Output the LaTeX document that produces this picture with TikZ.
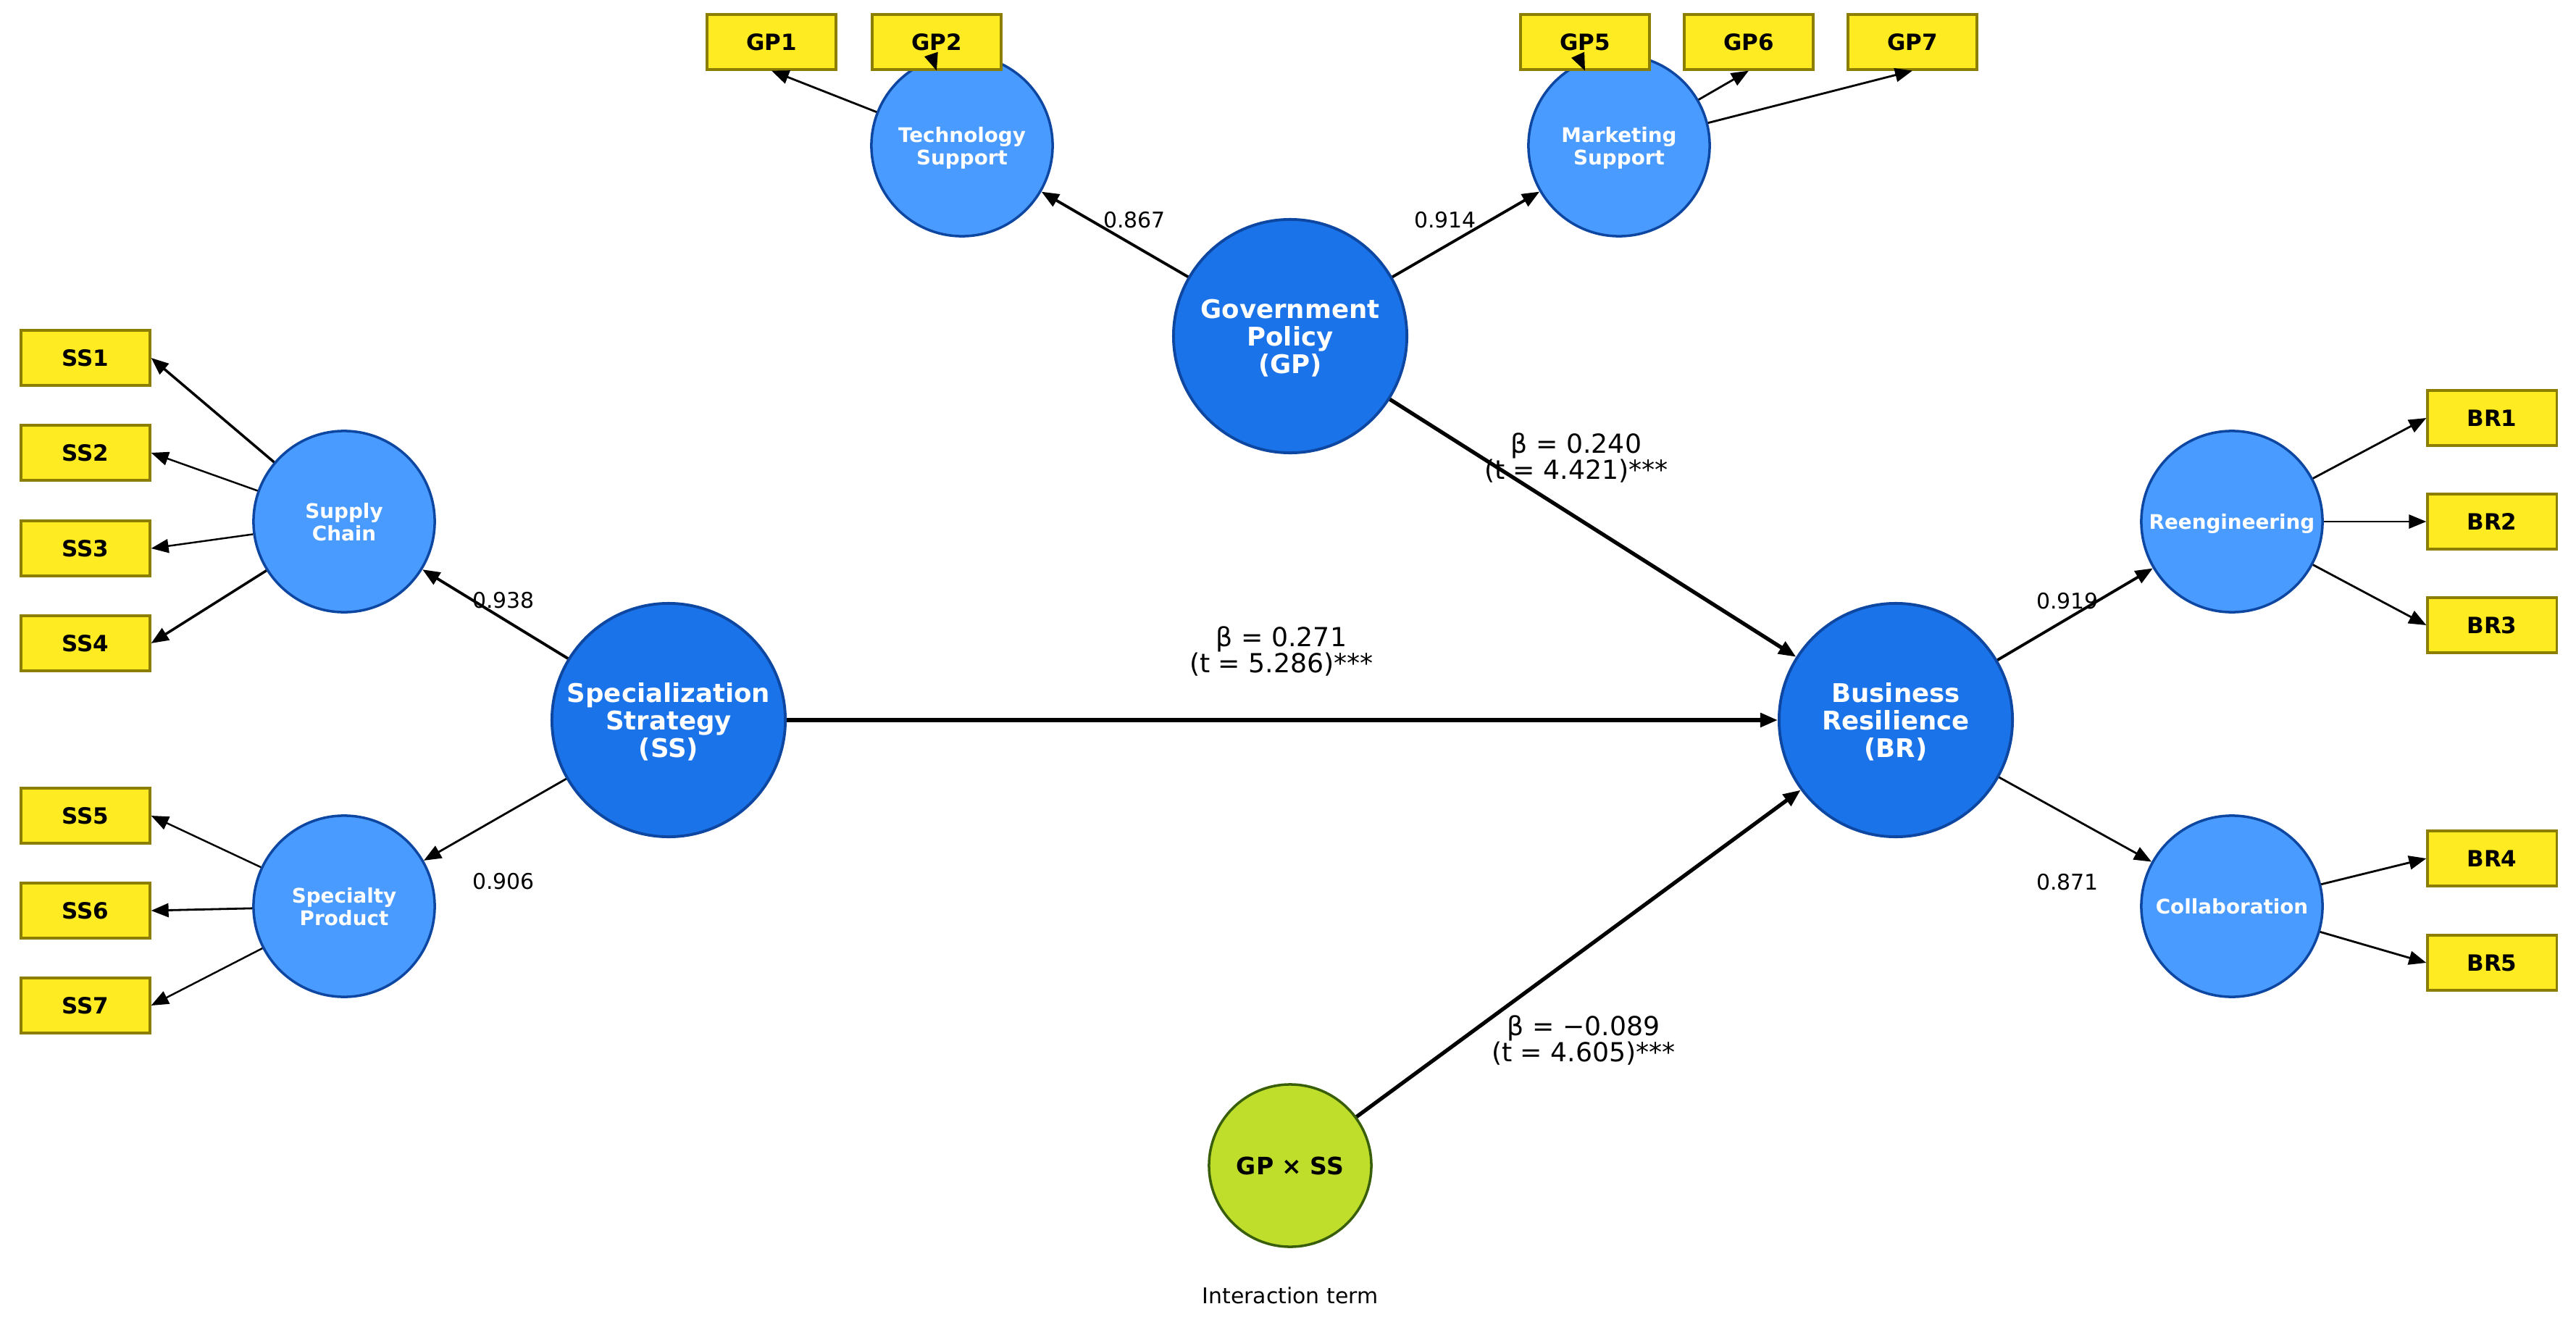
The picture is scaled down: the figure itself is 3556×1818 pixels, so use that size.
\documentclass[tikz,border=0pt]{standalone}
\usepackage{fontspec}
\setmainfont{DejaVu Sans}
\usepackage{xcolor}
\usepackage{tikz}
\usetikzlibrary{arrows.meta}

\definecolor{mainblue}{HTML}{1A73E8}
\definecolor{lightblue}{HTML}{4A9BFF}
\definecolor{edgeblue}{HTML}{0D47A1}
\definecolor{limegreen}{HTML}{BFDD2B}
\definecolor{olivegreen}{HTML}{3A5F0B}
\definecolor{itemyellow}{HTML}{FFEB22}
\definecolor{itemedge}{HTML}{8C7E00}

\begin{document}
\begin{tikzpicture}[
    x=0.01cm, y=-0.01cm,
    construct/.style={circle, draw=edgeblue, line width=1.1pt, fill=mainblue, text=white, text depth=0pt,
      minimum size=3.22cm, inner sep=0pt, align=center, font=\fontsize{10.1}{10.8}\selectfont\bfseries},
    dimension/.style={circle, draw=edgeblue, line width=1pt, fill=lightblue, text=white, text depth=0pt,
      minimum size=2.5cm, inner sep=0pt, align=center, font=\fontsize{7.9}{8.8}\selectfont\bfseries},
    moderator/.style={circle, draw=olivegreen, line width=1pt, fill=limegreen,
      minimum size=2.24cm, inner sep=0pt, font=\fontsize{9.4}{11}\selectfont\bfseries},
    item/.style={rectangle, draw=itemedge, line width=0.9pt, fill=itemyellow,
      minimum width=1.78cm, minimum height=0.76cm, inner sep=0pt, font=\fontsize{8.8}{10}\selectfont\bfseries},
    tip/.style={-{Triangle[length=2.4mm,width=1.9mm]}},
    structural/.style={tip, line width=1.5pt},
    loading/.style={tip, line width=#1},
    loading/.default=1pt,
    coef/.style={align=center, font=\fontsize{10.3}{10.2}\selectfont},
    weight/.style={font=\fontsize{8.5}{10}\selectfont},
  ]
  \useasboundingbox (0,0) rectangle (3556,1818);

  % Constructs
  \node[construct] (gp) at (1781,464) {Government\\Policy\\(GP)};
  \node[construct] (ss) at (923,994)  {Specialization\\Strategy\\(SS)};
  \node[construct] (br) at (2617,994) {Business\\Resilience\\(BR)};
  \node[moderator] (gpss) at (1781,1609) {GP × SS};

  % Dimensions
  \node[dimension] (ts) at (1328,201)  {Technology\\Support};
  \node[dimension] (ms) at (2235,201)  {Marketing\\Support};
  \node[dimension] (sc) at (475,720)   {Supply\\Chain};
  \node[dimension] (sp) at (475,1251)  {Specialty\\Product};
  \node[dimension] (re) at (3081,720)  {Reengineering};
  \node[dimension] (co) at (3081,1251) {Collaboration};

  % Indicators
  \node[item] (gp1) at (1065,58) {GP1};
  \node[item] (gp2) at (1293,58) {GP2};
  \node[item] (gp5) at (2188,58) {GP5};
  \node[item] (gp6) at (2414,58) {GP6};
  \node[item] (gp7) at (2640,58) {GP7};

  \node[item] (ss1) at (118,494)  {SS1};
  \node[item] (ss2) at (118,625)  {SS2};
  \node[item] (ss3) at (118,757)  {SS3};
  \node[item] (ss4) at (118,888)  {SS4};
  \node[item] (ss5) at (118,1126) {SS5};
  \node[item] (ss6) at (118,1257) {SS6};
  \node[item] (ss7) at (118,1388) {SS7};

  \node[item] (br1) at (3440,577)  {BR1};
  \node[item] (br2) at (3440,720)  {BR2};
  \node[item] (br3) at (3440,863)  {BR3};
  \node[item] (br4) at (3440,1185) {BR4};
  \node[item] (br5) at (3440,1329) {BR5};

  % Structural paths
  \draw[structural] (gp) -- (br);
  \draw[structural] (ss) -- (br);
  \draw[structural] (gpss) -- (br);

  % Second-order loadings
  \draw[loading=1.1pt] (gp) -- (ts);
  \draw[loading=1.1pt] (gp) -- (ms);
  \draw[loading=1.1pt] (ss) -- (sc);
  \draw[loading=0.8pt] (ss) -- (sp);
  \draw[loading=1.1pt] (br) -- (re);
  \draw[loading=0.8pt] (br) -- (co);

  % Indicator loadings
  \draw[loading=0.8pt] (ts) -- (gp1.south);
  \draw[loading=0.8pt] (ts) -- (gp2.south);
  \draw[loading=0.8pt] (ms) -- (gp5.south);
  \draw[loading=0.8pt] (ms) -- (gp6.south);
  \draw[loading=0.8pt] (ms) -- (gp7.south);
  \draw[loading=1pt] (sc) -- (ss1.east);
  \draw[loading=0.7pt] (sc) -- (ss2.east);
  \draw[loading=0.7pt] (sc) -- (ss3.east);
  \draw[loading=1pt] (sc) -- (ss4.east);
  \draw[loading=0.7pt] (sp) -- (ss5.east);
  \draw[loading=0.8pt] (sp) -- (ss6.east);
  \draw[loading=0.7pt] (sp) -- (ss7.east);
  \draw[loading=0.8pt] (re) -- (br1.west);
  \draw[loading=0.8pt] (re) -- (br2.west);
  \draw[loading=0.8pt] (re) -- (br3.west);
  \draw[loading=0.8pt] (co) -- (br4.west);
  \draw[loading=0.8pt] (co) -- (br5.west);

  % Coefficients
  \node[weight] (w-ts) at (1566,304)  {0.867};
  \node[weight] (w-ms) at (1995,304)  {0.914};
  \node[weight] (w-sc) at (695,829)   {0.938};
  \node[weight] (w-sp) at (695,1217)  {0.906};
  \node[weight] (w-re) at (2854,830)  {0.919};
  \node[weight] (w-co) at (2854,1218) {0.871};

  \node[coef] (b-gp) at (2176,632)   {β = 0.240\\(t = 4.421)***};
  \node[coef] (b-ss) at (1769,899)   {β = 0.271\\(t = 5.286)***};
  \node[coef] (b-gpss) at (2186,1436) {β = −0.089\\(t = 4.605)***};

  \node[weight] (note) at (1781,1788) {Interaction term};
\end{tikzpicture}
\end{document}
